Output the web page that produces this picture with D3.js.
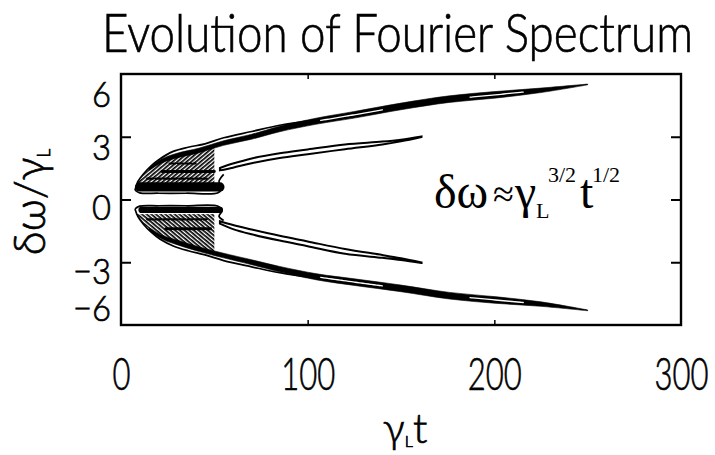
<!DOCTYPE html>
<html lang="en">
<head>
<meta charset="UTF-8">
<title>Evolution of Fourier Spectrum</title>
<style>
  body { margin: 0; background: #fff; }
  svg { display: block; background: #fff; }
</style>
</head>
<body>
<svg width="715" height="455"></svg>
<script src="https://cdn.jsdelivr.net/npm/d3@7"></script>
<script>
// ticks
var xTicks = [0, 100, 200, 300]
var yTicks = [-6, -3, 0, 3, 6]

// outermost contour, upper / lower half  (t = gamma_L t,  w = dw / gamma_L)
var envT   = [7.5, 9, 12, 16, 21, 28, 36, 45, 55, 70, 85, 105]
var envUp  = [0.45, 0.85, 1.22, 1.6, 1.95, 2.3, 2.5, 2.66, 2.95, 3.25, 3.55, 3.82]
var envLow = [-0.45, -0.8, -1.18, -1.55, -1.9, -2.22, -2.45, -2.65, -2.92, -3.22, -3.5, -3.77]

// inner edge of the two lobes next to w = 0 (with the notch at t ~ 53)
var lobeT   = [7.5, 10, 20, 35, 52, 54, 52.5, 55]
var lobeUp  = [0.45, 0.32, 0.3, 0.3, 0.32, 0.55, 0.85, 1.2]
var lobeLow = [-0.45, -0.32, -0.3, -0.3, -0.32, -0.55, -0.8, -1.0]

// main branch
var outerT   = [15, 22, 30, 42, 55, 70, 85, 105, 125, 150, 176, 200, 225, 250]
var outerUp  = [1.45, 1.85, 2.1, 2.35, 2.7, 3.0, 3.37, 3.75, 4.05, 4.45, 4.8, 5.0, 5.22, 5.5]
var outerLow = [-1.4, -1.8, -2.05, -2.38, -2.68, -3.0, -3.33, -3.7, -3.95, -4.25, -4.6, -4.8, -5.0, -5.3]
var slitT0 = [107, 187]
var slitT1 = [140, 216]

// second branch
var innerT   = [53, 60, 70, 85, 100, 120, 140, 150, 161]
var innerUp  = [1.45, 1.62, 1.85, 2.1, 2.28, 2.52, 2.7, 2.82, 3.0]
var innerLow = [-1.1, -1.32, -1.55, -1.85, -2.12, -2.48, -2.72, -2.85, -3.02]

// horizontal streaks inside the lobes
var barT0   = [10, 14, 22, 26, 11, 14, 24]
var barT1   = [53, 46, 50, 40, 53, 46, 48]
var barW    = [0.6, 1.0, 1.34, 1.72, -0.5, -0.95, -1.4]
var barHalf = [0.22, 0.05, 0.07, 0.05, 0.15, 0.05, 0.07]

var svg = d3.select('svg')
var x = d3.scaleLinear().domain([0, 300]).range([121, 681])
var y = d3.scaleLinear().domain([-6, 6]).range([325, 74])

function pts(ts, ws) { return ts.map(function (t, i) { return { t: t, w: ws[i] } }) }

var curve = d3.curveCatmullRom.alpha(0.5)
var line = d3.line().x(d => x(d.t)).y(d => y(d.w)).curve(curve)

var defs = svg.append('defs')
;[['hatchUp', -40], ['hatchLow', 40]].forEach(function (h) {
    defs.append('pattern').attr('id', h[0]).attr('patternUnits', 'userSpaceOnUse')
        .attr('width', 8).attr('height', 3).attr('patternTransform', 'rotate(' + h[1] + ')')
        .append('rect').attr('width', 8).attr('height', 1.7).attr('fill', '#000')
})

// clip for the hatched core of each lobe
function lobeClip(id, envW, bandW, lobeW) {
    var top = pts(envT, envW).filter(d => d.t < 14).concat(pts(outerT, bandW).filter(d => d.t <= 55))
    var bottom = pts(lobeT, lobeW).slice(0, 5).reverse()
    defs.append('clipPath').attr('id', id).append('path')
        .attr('d', d3.line().x(d => x(d.t)).y(d => y(d.w)).curve(d3.curveLinearClosed)(top.concat(bottom)))
}
lobeClip('clipUp', envUp, outerUp, lobeUp)
lobeClip('clipLow', envLow, outerLow, lobeLow)

var plot = svg.append('g')

// hatching
plot.append('rect').attr('clip-path', 'url(#clipUp)')
    .attr('x', x(7)).attr('width', x(50) - x(7))
    .attr('y', y(2.9)).attr('height', y(0.75) - y(2.9))
    .attr('fill', 'url(#hatchUp)')
plot.append('rect').attr('clip-path', 'url(#clipLow)')
    .attr('x', x(7)).attr('width', x(50) - x(7))
    .attr('y', y(-0.7)).attr('height', y(-2.9) - y(-0.7))
    .attr('fill', 'url(#hatchLow)')

// streaks
barW.forEach(function (w, i) {
    plot.append('line')
        .attr('x1', x(barT0[i])).attr('x2', x(barT1[i]))
        .attr('y1', y(w)).attr('y2', y(w))
        .attr('stroke', '#000')
        .attr('stroke-width', y(w - barHalf[i]) - y(w + barHalf[i]))
        .attr('stroke-linecap', 'round')
        .attr('stroke-dasharray', barHalf[i] < 0.1 ? '6,2' : null)
})

// contours around the lobes
;[[envT, envUp], [envT, envLow], [lobeT, lobeUp], [lobeT, lobeLow]].forEach(function (c) {
    plot.append('path').attr('d', line(pts(c[0], c[1])))
        .attr('fill', 'none').attr('stroke', '#000').attr('stroke-width', 1.7)
})

// main branches: thick band with white slits
function bandPts(ts, ws, hw, grow) {
    var t0 = ts[0], t1 = ts[ts.length - 1]
    return ts.map(function (t, i) {
        var g = hw + grow * Math.max(0, Math.min(1, (t - 60) / 60))
        return { t: t, w: ws[i], h: g * Math.min(1, 0.5 + (t - t0) / 20) * Math.min(1, 0.12 + (t1 - t) / 45) }
    })
}
var bandArea = d3.area().x(d => x(d.t)).y0(d => y(d.w) + d.h).y1(d => y(d.w) - d.h).curve(curve)

;[outerUp, outerLow].forEach(function (ws) {
    plot.append('path').attr('d', bandArea(bandPts(outerT, ws, 2.3, 1.0)))
        .attr('fill', '#000').attr('stroke', '#000').attr('stroke-width', 0.6)
    var mid = d3.scaleLinear().domain(outerT).range(ws)
    slitT0.forEach(function (t0, k) {
        var seg = d3.range(t0, slitT1[k] + 0.1, 1.5).map(t => ({ t: t, w: mid(t) }))
        plot.append('path').attr('d', line(seg))
            .attr('fill', 'none').attr('stroke', '#fff').attr('stroke-width', 1.3)
            .attr('stroke-linecap', 'round')
    })
})

// second branches: narrow closed contour
;[innerUp, innerLow].forEach(function (ws) {
    plot.append('path').attr('d', bandArea(bandPts(innerT, ws, 2.4, 0)))
        .attr('fill', '#fff').attr('stroke', '#000').attr('stroke-width', 2)
})

// frame and ticks
svg.append('rect').attr('x', x(0)).attr('y', y(6))
    .attr('width', x(300) - x(0)).attr('height', y(-6) - y(6))
    .attr('fill', 'none').attr('stroke', '#000').attr('stroke-width', 2.4)

var sans = 'Lato, Liberation Sans, Arial, sans-serif'
var fmt = d => d < 0 ? '\u2212' + Math.abs(d) : String(d)
var yLabelShift = { '6': 20, '3': 10, '0': 7, '-3': 8, '-6': -17 }

// light face, thickened a little to look like the scanned lettering
function ink(sel) {
    sel.attr('font-family', sans).attr('font-weight', 300).attr('fill', '#000')
        .attr('stroke', '#000').attr('stroke-width', 0.7)
}

var gy = svg.append('g').attr('transform', 'translate(' + x(0) + ',0)')
    .call(d3.axisLeft(y).tickValues(yTicks).tickSize(-10).tickPadding(10).tickFormat(fmt))
gy.select('.domain').remove()
gy.selectAll('.tick line').attr('stroke-width', 2).attr('display', d => Math.abs(d) === 6 ? 'none' : null)
gy.selectAll('text').call(ink).attr('font-size', 36)
    .attr('dy', '0.36em').attr('y', d => yLabelShift[d])
    .attr('textLength', d => fmt(d).length * 19).attr('lengthAdjust', 'spacingAndGlyphs')

var gr = svg.append('g').attr('transform', 'translate(' + x(300) + ',0)')
    .call(d3.axisRight(y).tickValues([-3, 0, 3]).tickSize(-10).tickFormat(''))
gr.select('.domain').remove()
gr.selectAll('.tick line').attr('stroke-width', 2)

var gx = svg.append('g').attr('transform', 'translate(0,' + y(-6) + ')')
    .call(d3.axisBottom(x).tickValues(xTicks).tickSize(-5).tickPadding(32))
gx.select('.domain').remove()
gx.selectAll('.tick line').attr('stroke-width', 1.5).attr('display', d => d === 0 || d === 300 ? 'none' : null)
gx.selectAll('text').call(ink).attr('font-size', 46)
    .attr('textLength', d => String(d).length * 18).attr('lengthAdjust', 'spacingAndGlyphs')

var gt = svg.append('g').attr('transform', 'translate(0,' + y(6) + ')')
    .call(d3.axisTop(x).tickValues([100, 200]).tickSize(-5).tickFormat(''))
gt.select('.domain').remove()
gt.selectAll('.tick line').attr('stroke-width', 1.5)

// title
svg.append('text').attr('x', 102).attr('y', 52).call(ink).attr('font-size', 54)
    .attr('textLength', 591).attr('lengthAdjust', 'spacingAndGlyphs')
    .text('Evolution of Fourier Spectrum')

// axis titles
var xt = svg.append('text').attr('x', 405).attr('y', 443).attr('text-anchor', 'middle')
    .call(ink).attr('font-size', 42)
xt.append('tspan').text('\u03b3')
xt.append('tspan').attr('font-size', 16).attr('dy', 4).text('L')
xt.append('tspan').attr('dy', -4).text('t')

var yt = svg.append('text').attr('transform', 'translate(45,202) rotate(-90)').attr('text-anchor', 'middle')
    .call(ink).attr('font-size', 44)
yt.append('tspan').text('\u03b4\u03c9/\u03b3')
yt.append('tspan').attr('font-size', 17).attr('dy', 5).text('L')

// annotation
var ann = svg.append('text').attr('font-family', 'Liberation Serif, Times New Roman, serif').attr('font-size', 48)
ann.append('tspan').attr('x', 434).attr('y', 208).text('\u03b4\u03c9')
ann.append('tspan').attr('x', 493).attr('y', 207).attr('font-size', 38).text('\u2248')
ann.append('tspan').attr('x', 515).attr('y', 208).text('\u03b3')
ann.append('tspan').attr('x', 536).attr('y', 218).attr('font-size', 22).text('L')
ann.append('tspan').attr('x', 548).attr('y', 182).attr('font-size', 22).text('3/2')
ann.append('tspan').attr('x', 580).attr('y', 208).text('t')
ann.append('tspan').attr('x', 592).attr('y', 182).attr('font-size', 22).text('1/2')
</script>
</body>
</html>
